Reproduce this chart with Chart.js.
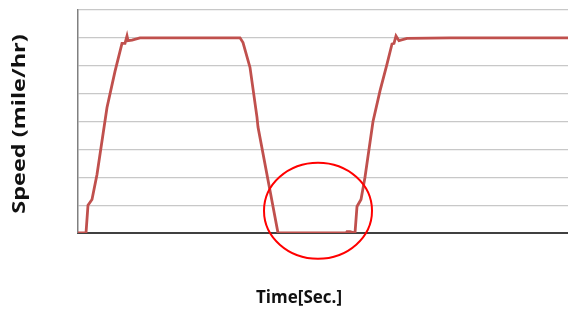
<!DOCTYPE html>
<html>
<head>
<meta charset="utf-8">
<title>Speed over time</title>
<script src="https://cdn.jsdelivr.net/npm/chart.js@4.4.1/dist/chart.umd.min.js"></script>
<style>
	html, body { margin: 0; padding: 0; background: #fff; }
	#wrap { position: relative; width: 568px; height: 316px; }
</style>
</head>
<body>
<div id="wrap"><canvas id="speedChart" width="568" height="316"></canvas></div>
<script>
// time (sec) and speed (mile/hr)
const timeSec = [0, 8, 10, 14, 19, 29, 37, 44, 47, 49, 50, 54, 62, 162, 165, 172, 179, 180, 190, 200,
	268, 269, 272, 277, 279, 283, 287, 295, 302, 309, 314, 316, 318, 321, 329, 372, 490];
const speed = [0, 0, 1.0, 1.2, 2.1, 4.5, 5.8, 6.8, 6.8, 7.07, 6.9, 6.92, 7.0, 7.0, 6.83, 5.94, 4.15, 3.8, 1.9, 0,
	0, 0.05, 0.05, 0, 0.95, 1.2, 2.0, 4.0, 5.1, 6.06, 6.78, 6.8, 7.07, 6.9, 6.98, 7.0, 7.0];
const yTicks = [0, 1, 2, 3, 4, 5, 6, 7, 8];
// the stop that is circled on the chart
const stopCentre = { x: 240, y: 0.8 };

const points = timeSec.map((t, i) => ({ x: t, y: speed[i] }));

// axis titles, drawn by hand so the y one can be stretched like the original
const titlesPlugin = {
	id: "titles",
	afterDraw(chart, args, opts) {
		const { ctx } = chart;
		ctx.save();
		ctx.fillStyle = opts.color;
		ctx.textAlign = "center";
		ctx.textBaseline = "middle";

		ctx.font = opts.xFont;
		ctx.fillText(opts.xText, opts.xPos[0], opts.xPos[1]);

		ctx.font = opts.yFont;
		ctx.translate(opts.yPos[0], opts.yPos[1]);
		ctx.rotate(-Math.PI / 2);
		ctx.scale(opts.yStretch, 1);
		ctx.fillText(opts.yText, 0, 0);
		ctx.restore();
	},
};

const ringPlugin = {
	id: "ring",
	afterDatasetsDraw(chart, args, opts) {
		const { ctx, scales } = chart;
		const cx = scales.x.getPixelForValue(stopCentre.x);
		const cy = scales.y.getPixelForValue(stopCentre.y);
		ctx.save();
		ctx.strokeStyle = opts.color;
		ctx.lineWidth = opts.width;
		ctx.beginPath();
		ctx.ellipse(cx, cy, opts.rx, opts.ry, 0, 0, Math.PI * 2);
		ctx.stroke();
		ctx.restore();
	},
};

new Chart(document.getElementById("speedChart"), {
	type: "line",
	data: {
		datasets: [
			{
				data: points,
				borderColor: "#c0504d",
				borderWidth: 2.8,
				pointRadius: 0,
				tension: 0,
			},
		],
	},
	options: {
		responsive: false,
		animation: false,
		layout: { padding: { top: 10, right: 0, left: 0, bottom: 0 } },
		plugins: {
			legend: { display: false },
			tooltip: { enabled: false },
			titles: {
				color: "#111",
				xText: "Time[Sec.]",
				xPos: [299, 298],
				xFont: "bold 17px 'Open Sans'",
				yText: "Speed (mile/hr)",
				yPos: [20, 124],
				yFont: "bold 17px 'Open Sans'",
				yStretch: 1.38,
			},
			ring: { color: "#ff0000", width: 2, rx: 54, ry: 48 },
		},
		scales: {
			x: {
				type: "linear",
				min: 0,
				max: 490,
				grid: { display: false },
				border: { color: "#404040", width: 2 },
				ticks: { display: false },
				afterFit: (s) => { s.height = 83; },
			},
			y: {
				min: 0,
				max: 8,
				afterBuildTicks: (s) => { s.ticks = yTicks.map((v) => ({ value: v })); },
				grid: { color: "#c8c8c8", lineWidth: 1.2, drawTicks: false },
				border: { color: "#808080", width: 1.5 },
				ticks: { display: false },
				afterFit: (s) => { s.width = 78; },
			},
		},
	},
	plugins: [titlesPlugin, ringPlugin],
});
</script>
</body>
</html>
